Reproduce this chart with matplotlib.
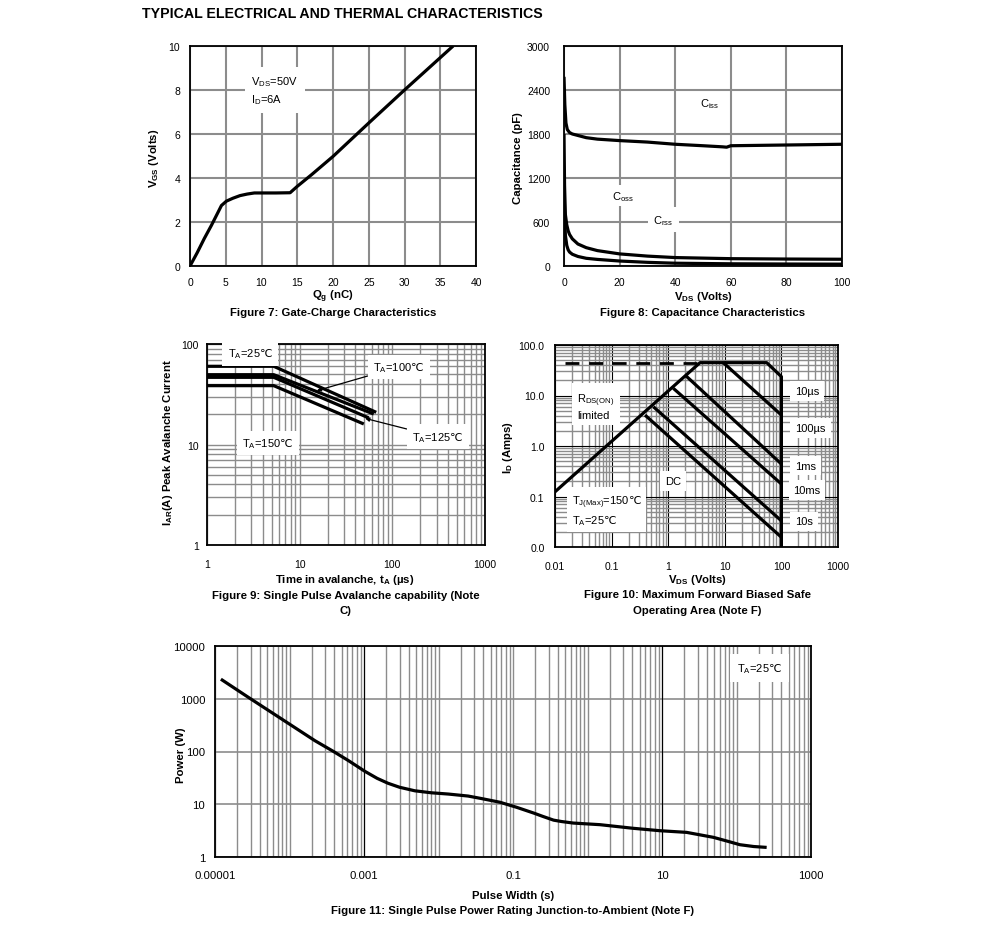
import matplotlib
matplotlib.use('Agg')
import matplotlib.pyplot as plt
import numpy as np
from matplotlib.ticker import LogLocator, NullFormatter

plt.rcParams['font.family'] = ['Liberation Sans', 'DejaVu Sans']
plt.rcParams['mathtext.fontset'] = 'custom'
plt.rcParams['mathtext.rm'] = 'Liberation Sans'
plt.rcParams['mathtext.it'] = 'Liberation Sans:italic'
plt.rcParams['mathtext.bf'] = 'Liberation Sans:bold'
plt.rcParams['mathtext.sf'] = 'DejaVu Sans'

DEG = r'$\mathsf{℃}$'

# ---------------- data ----------------
# Figure 7: gate charge
gc_qg = [0, 1, 2, 3, 3.7, 4.4, 5.1, 6, 7, 8, 9, 10, 12, 14, 15, 17, 20, 25, 30, 35, 36.8]
gc_vgs = [0, 0.6, 1.25, 1.85, 2.3, 2.75, 2.95, 3.08, 3.2, 3.27, 3.32, 3.32, 3.32, 3.33,
          3.62, 4.15, 4.98, 6.5, 8.0, 9.47, 10.0]
gc_xticks = [0, 5, 10, 15, 20, 25, 30, 35, 40]
gc_yticks = [0, 2, 4, 6, 8, 10]

# Figure 8: capacitance
cap_ciss_v = [0, 0.3, 0.7, 1.2, 2, 3, 5, 8, 12, 20, 30, 40, 50, 57, 58.5, 60, 80, 100]
cap_ciss_c = [2580, 2200, 1950, 1860, 1820, 1800, 1780, 1750, 1730, 1710, 1690, 1660, 1640,
              1625, 1620, 1640, 1650, 1660]
cap_coss_v = [0, 0.2, 0.5, 1, 1.5, 2, 3, 5, 8, 12, 20, 30, 40, 60, 80, 100]
cap_coss_c = [1800, 1100, 700, 560, 480, 430, 370, 300, 250, 210, 165, 135, 115, 100, 95, 92]
cap_crss_v = [0, 0.2, 0.5, 1, 1.5, 2, 3, 5, 8, 12, 20, 30, 40, 60, 80, 100]
cap_crss_c = [1300, 700, 420, 280, 220, 190, 160, 130, 105, 90, 68, 50, 38, 30, 27, 25]
cap_xticks = [0, 20, 40, 60, 80, 100]
cap_yticks = [0, 600, 1200, 1800, 2400, 3000]

# Figure 9: avalanche
av_t25 = [1, 5.25, 67];   av_i25 = [60, 60, 20.9]
av_t100 = [1, 5.25, 63];  av_i100 = [49.5, 49.5, 20.1]
av_t125 = [1, 5.25, 55.7]; av_i125 = [46.6, 46.6, 18.4]
av_t150 = [1, 5.25, 49.2]; av_i150 = [38.5, 38.5, 16.0]
av_xticks = [1, 10, 100, 1000]
av_xlabels = ['1', '10', '100', '1000']
av_yticks = [1, 10, 100]
av_ylabels = ['1', '10', '100']

# Figure 10: SOA
soa_dash_v = [0.015, 3.65]
soa_dash_i = [44.7, 44.7]
soa_lim_v = [0.01, 3.65, 55, 100, 100]
soa_lim_i = [0.124, 44.7, 44.7, 23.6, 0.01]
soa_100us_v = [9.4, 100];  soa_100us_i = [44.7, 4.1]
soa_1ms_v = [1.98, 100];   soa_1ms_i = [25.5, 0.44]
soa_10ms_v = [1.23, 100];  soa_10ms_i = [13.9, 0.177]
soa_10s_v = [0.546, 100];  soa_10s_i = [6.0, 0.033]
soa_dc_v = [0.389, 100];   soa_dc_i = [4.1, 0.0156]
soa_xticks = [0.01, 0.1, 1, 10, 100, 1000]
soa_xlabels = ['0.01', '0.1', '1', '10', '100', '1000']
soa_yticks = [0.01, 0.1, 1, 10, 100]
soa_ylabels = ['0.0', '0.1', '1.0', '10.0', '100.0']

# Figure 11: single pulse power
pw_t = [1.2e-5, 2.8e-5, 7.85e-5, 2.2e-4, 3.9e-4, 6.2e-4, 1.03e-3, 1.5e-3, 2.1e-3, 3e-3,
        4.8e-3, 8e-3, 0.0136, 0.025, 0.038, 0.067, 0.112, 0.19, 0.25, 0.35, 0.45, 0.645,
        1.47, 4.1, 9.4, 21.4, 48.9, 75, 111, 170, 254]
pw_p = [2350, 1065, 413, 160, 100, 67, 42, 31, 25, 21, 18, 16.5, 15.6, 14.3, 12.8, 10.9,
        8.75, 6.8, 5.9, 5.0, 4.7, 4.4, 4.1, 3.5, 3.15, 2.93, 2.36, 2.0, 1.71, 1.58, 1.52]
pw_xticks = [1e-5, 1e-3, 1e-1, 10, 1000]
pw_xlabels = ['0.00001', '0.001', '0.1', '10', '1000']
pw_yticks = [1, 10, 100, 1000, 10000]
pw_ylabels = ['1', '10', '100', '1000', '10000']

# ---------------- layout helpers ----------------
W, H = 991, 953
fig = plt.figure(figsize=(W / 100, H / 100), dpi=100)
fig.patch.set_facecolor('white')

def pax(l, t, r, b):
    return fig.add_axes([l / W, 1 - b / H, (r - l) / W, (b - t) / H])

def ftext(x, y, s, **kw):
    kw.setdefault('ha', 'center')
    kw.setdefault('va', 'center')
    fig.text(x / W, 1 - y / H, s, **kw)

LBL = 8.2
TICK = 7.5
ANN = 8
GRID = '#8c8c8c'
CURVE = dict(color='black', lw=2.3, solid_capstyle='butt', solid_joinstyle='round')
WBOX = dict(facecolor='white', edgecolor='none', pad=2.5)

def style(ax, xpad, ypad, size=TICK):
    ax.set_axisbelow(True)
    ax.tick_params(which='both', length=0, labelsize=size)
    ax.tick_params(axis='x', pad=xpad)
    ax.tick_params(axis='y', pad=ypad)
    for sp in ax.spines.values():
        sp.set_color('black')
        sp.set_linewidth(1.3)

ftext(142, 14, 'TYPICAL ELECTRICAL AND THERMAL CHARACTERISTICS', ha='left',
      fontsize=10.2, fontweight='bold')

# ---------------- Figure 7 ----------------
ax7 = pax(190, 47, 476, 267)
ax7.plot(gc_qg, gc_vgs, **CURVE)
ax7.set_xlim(0, 40)
ax7.set_ylim(0, 10)
ax7.set_xticks(gc_xticks)
ax7.set_yticks(gc_yticks)
ax7.grid(color=GRID, lw=1.5)
style(ax7, 8, 7)
ax7.text(8.6, 8.0, 'V$_\\mathrm{DS}$=50V\nI$_\\mathrm{D}$=6A', fontsize=ANN, ha='left',
         va='center', linespacing=1.45,
         bbox=dict(facecolor='white', edgecolor='none', boxstyle='square,pad=0.6'))
ftext(154, 158, r'$\mathbf{V}_{\mathbf{GS}}$ (Volts)', rotation=90, fontsize=LBL,
      fontweight='bold')
ftext(333, 297, r'$\mathbf{Q}_{\mathbf{g}}$ (nC)', fontsize=LBL, fontweight='bold')
ftext(333, 312.5, 'Figure 7: Gate-Charge Characteristics', fontsize=LBL, fontweight='bold')

# ---------------- Figure 8 ----------------
ax8 = pax(564, 47, 842, 267)
ax8.plot(cap_ciss_v, cap_ciss_c, **CURVE)
ax8.plot(cap_coss_v, cap_coss_c, **CURVE)
ax8.plot(cap_crss_v, cap_crss_c, **CURVE)
ax8.set_xlim(0, 100)
ax8.set_ylim(0, 3000)
ax8.set_xticks(cap_xticks)
ax8.set_yticks(cap_yticks)
ax8.grid(color=GRID, lw=1.5)
style(ax8, 8, 10)
ax8.text(52.5, 2223, 'C$_\\mathrm{iss}$', fontsize=ANN, ha='center', va='center', bbox=WBOX)
ax8.text(21.3, 960, 'C$_\\mathrm{oss}$', fontsize=ANN, ha='center', va='center', bbox=WBOX)
ax8.text(35.7, 631, 'C$_\\mathrm{rss}$', fontsize=ANN, ha='center', va='center',
         bbox=dict(facecolor='white', edgecolor='none', pad=4))
ftext(518, 158, 'Capacitance (pF)', rotation=90, fontsize=LBL, fontweight='bold')
ftext(703, 297, r'$\mathbf{V}_{\mathbf{DS}}$ (Volts)', fontsize=LBL, fontweight='bold')
ftext(703, 312.5, 'Figure 8: Capacitance Characteristics', fontsize=LBL, fontweight='bold')

# ---------------- Figure 9 ----------------
ax9 = pax(207, 345, 485, 546)
ax9.set_xscale('log')
ax9.set_yscale('log')
for tt, ii in [(av_t25, av_i25), (av_t100, av_i100), (av_t125, av_i125), (av_t150, av_i150)]:
    ax9.plot(tt, ii, **CURVE)
ax9.set_xlim(1, 1000)
ax9.set_ylim(1, 100)
ax9.set_xticks(av_xticks, av_xlabels)
ax9.set_yticks(av_yticks, av_ylabels)
ax9.xaxis.set_minor_locator(LogLocator(base=10, subs=np.arange(2, 10), numticks=50))
ax9.yaxis.set_minor_locator(LogLocator(base=10, subs=np.arange(2, 10), numticks=50))
ax9.xaxis.set_minor_formatter(NullFormatter())
ax9.yaxis.set_minor_formatter(NullFormatter())
ax9.grid(which='both', color=GRID, lw=1.0)
style(ax9, 10, 6)
box9 = dict(facecolor='white', edgecolor='none', pad=4)
ax9.text(1.67, 80.8, 'T$_\\mathrm{A}$=25' + DEG, fontsize=ANN, ha='left', va='center',
         bbox=box9)
ax9.text(2.39, 10.35, 'T$_\\mathrm{A}$=150' + DEG, fontsize=ANN, ha='left', va='center',
         bbox=box9)
ax9.annotate('T$_\\mathrm{A}$=100' + DEG, xy=(15.3, 34.3), xytext=(62, 59), fontsize=ANN,
             ha='left', va='center', bbox=box9,
             arrowprops=dict(arrowstyle='-|>', color='black', lw=0.9,
                             mutation_scale=6, shrinkA=0, shrinkB=0))
ax9.annotate('T$_\\mathrm{A}$=125' + DEG, xy=(50.8, 18.2), xytext=(164, 11.9), fontsize=ANN,
             ha='left', va='center', bbox=box9,
             arrowprops=dict(arrowstyle='-|>', color='black', lw=0.9,
                             mutation_scale=6, shrinkA=0, shrinkB=0))
ftext(168, 443, r'$\mathbf{I}_{\mathbf{AR}}$(A) Peak Avalanche Current', rotation=90,
      fontsize=LBL, fontweight='bold')
ftext(345, 580, r'Time in avalanche, $\mathbf{t}_{\mathbf{A}}$ (µs)', fontsize=LBL,
      fontweight='bold')
ftext(346, 596, 'Figure 9: Single Pulse Avalanche capability (Note', fontsize=LBL,
      fontweight='bold')
ftext(346, 610.5, 'C)', fontsize=LBL, fontweight='bold')

# ---------------- Figure 10 ----------------
ax10 = pax(555, 346, 838, 548)
ax10.set_xscale('log')
ax10.set_yscale('log')
ax10.plot(soa_dash_v, soa_dash_i, color='black', lw=2.0, ls=(0, (5, 3.5)))
ax10.plot(soa_lim_v, soa_lim_i, color='black', lw=2.3)
for vv, ii in [(soa_100us_v, soa_100us_i), (soa_1ms_v, soa_1ms_i), (soa_10ms_v, soa_10ms_i),
               (soa_10s_v, soa_10s_i), (soa_dc_v, soa_dc_i)]:
    ax10.plot(vv, ii, **CURVE)
ax10.set_xlim(0.01, 1000)
ax10.set_ylim(0.01, 100)
ax10.set_xticks(soa_xticks, soa_xlabels)
ax10.set_yticks(soa_yticks, soa_ylabels)
ax10.xaxis.set_minor_locator(LogLocator(base=10, subs=np.arange(2, 10), numticks=50))
ax10.yaxis.set_minor_locator(LogLocator(base=10, subs=np.arange(2, 10), numticks=50))
ax10.xaxis.set_minor_formatter(NullFormatter())
ax10.yaxis.set_minor_formatter(NullFormatter())
ax10.grid(which='minor', color=GRID, lw=1.0)
ax10.grid(which='major', color='black', lw=0.8)
style(ax10, 10, 7.5)
soa_box = dict(facecolor='white', edgecolor='none', pad=3.5)
ax10.text(176, 12.4, '10µs', fontsize=ANN, ha='left', va='center', bbox=soa_box)
ax10.text(176, 2.27, '100µs', fontsize=ANN, ha='left', va='center', bbox=soa_box)
ax10.text(176, 0.41, '1ms', fontsize=ANN, ha='left', va='center', bbox=soa_box)
ax10.text(163, 0.135, '10ms', fontsize=ANN, ha='left', va='center', bbox=soa_box)
ax10.text(176, 0.032, '10s', fontsize=ANN, ha='left', va='center', bbox=soa_box)
ax10.text(1.23, 0.206, 'DC', fontsize=ANN, ha='center', va='center', bbox=soa_box)
ax10.text(0.0248, 6.2, 'R$_\\mathrm{DS(ON)}$\nlimited', fontsize=ANN, ha='left',
          va='center', linespacing=1.3, bbox=soa_box)
ax10.text(0.0197, 0.053, 'T$_\\mathrm{J(Max)}$=150' + DEG + '\nT$_\\mathrm{A}$=25' + DEG,
          fontsize=ANN, ha='left', va='center', linespacing=1.35, bbox=soa_box)
ftext(508, 448, r'$\mathbf{I}_{\mathbf{D}}$ (Amps)', rotation=90, fontsize=LBL,
      fontweight='bold')
ftext(697, 580, r'$\mathbf{V}_{\mathbf{DS}}$ (Volts)', fontsize=LBL, fontweight='bold')
ftext(697, 595.5, 'Figure 10: Maximum Forward Biased Safe', fontsize=LBL, fontweight='bold')
ftext(697, 610.5, 'Operating Area (Note F)', fontsize=LBL, fontweight='bold')

# ---------------- Figure 11 ----------------
ax11 = pax(215, 647, 811, 858)
ax11.set_xscale('log')
ax11.set_yscale('log')
ax11.plot(pw_t, pw_p, **CURVE)
ax11.set_xlim(1e-5, 1000)
ax11.set_ylim(1, 10000)
ax11.set_xticks(pw_xticks, pw_xlabels)
ax11.set_yticks(pw_yticks, pw_ylabels)
ax11.xaxis.set_minor_locator(LogLocator(base=10, subs=np.arange(1, 10), numticks=100))
ax11.xaxis.set_minor_formatter(NullFormatter())
ax11.yaxis.set_minor_locator(LogLocator(base=10, subs=[], numticks=10))
ax11.grid(which='both', axis='x', color=GRID, lw=1.0)
ax11.grid(which='major', axis='y', color=GRID, lw=1.2)
for xv in [1e-3, 10]:
    ax11.axvline(xv, color='black', lw=0.8, zorder=0.9)
style(ax11, 9.5, 7, size=8.2)
ax11.text(102, 3800, 'T$_\\mathrm{A}$=25' + DEG, fontsize=ANN, ha='left', va='center',
          bbox=dict(facecolor='white', edgecolor='none', pad=5))
ftext(181, 755, 'Power (W)', rotation=90, fontsize=LBL, fontweight='bold')
ftext(513, 896.5, 'Pulse Width (s)', fontsize=LBL, fontweight='bold')
ftext(513, 911.5, 'Figure 11: Single Pulse Power Rating Junction-to-Ambient (Note F)',
      fontsize=LBL, fontweight='bold')

fig.savefig('out.png', dpi=100, facecolor='white')
